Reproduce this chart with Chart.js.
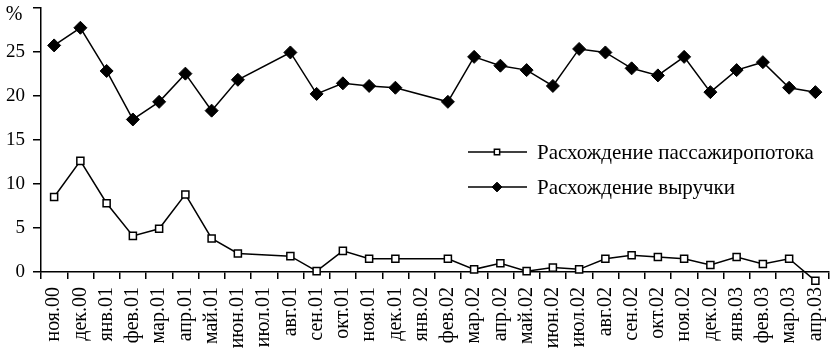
<!DOCTYPE html>
<html>
<head>
<meta charset="utf-8">
<script src="https://cdn.jsdelivr.net/npm/chart.js@4/dist/chart.umd.min.js"></script>
<style>
    html, body { margin: 0; padding: 0; background: #fff; overflow: hidden; }
    #wrap { width: 836px; height: 353px; }
</style>
</head>
<body>
<div id="wrap"><canvas id="chart" width="836" height="353"></canvas></div>
<script>
// Months on the x axis
const months = ['ноя.00', 'дек.00', 'янв.01', 'фев.01', 'мар.01', 'апр.01', 'май.01', 'июн.01',
    'июл.01', 'авг.01', 'сен.01', 'окт.01', 'ноя.01', 'дек.01', 'янв.02', 'фев.02', 'мар.02',
    'апр.02', 'май.02', 'июн.02', 'июл.02', 'авг.02', 'сен.02', 'окт.02', 'ноя.02', 'дек.02',
    'янв.03', 'фев.03', 'мар.03', 'апр.03'];

// Passenger flow discrepancy, %
const passengerGap = [8.5, 12.6, 7.8, 4.1, 4.9, 8.8, 3.8, 2.1, null, 1.8, 0.1, 2.4, 1.5, 1.5,
    null, 1.5, 0.3, 1.0, 0.1, 0.5, 0.3, 1.5, 1.9, 1.7, 1.5, 0.8, 1.7, 0.9, 1.5, -1.0];

// Revenue discrepancy, %
const revenueGap = [25.7, 27.7, 22.8, 17.3, 19.3, 22.5, 18.3, 21.8, null, 24.9, 20.2, 21.4, 21.1, 20.9,
    null, 19.3, 24.4, 23.4, 22.9, 21.1, 25.3, 24.9, 23.1, 22.3, 24.4, 20.4, 22.9, 23.8, 20.9, 20.4];

const yTicks = [0, 5, 10, 15, 20, 25, 30];
const seriesNames = ['Расхождение пассажиропотока', 'Расхождение выручки'];

const FONT = "'Liberation Serif', 'Times New Roman', serif";
const BIG_AREA = { left: -10000, top: -10000, right: 10000, bottom: 10000 };

// Points that fall below the x axis are skipped by Chart.js, so draw them again
const outsidePointsPlugin = {
    id: 'outsidePoints',
    afterDatasetsDraw(chart) {
        const area = chart.chartArea;
        chart.data.datasets.forEach((ds, i) => {
            chart.getDatasetMeta(i).data.forEach(pt => {
                if (pt.skip) return;
                if (pt.y > area.bottom || pt.y < area.top) {
                    pt.draw(chart.ctx, BIG_AREA);
                }
            });
        });
    }
};

// Legend drawn inside the plot, plus the "%" unit mark
const extrasPlugin = {
    id: 'extras',
    afterDraw(chart) {
        const ctx = chart.ctx;
        ctx.save();
        ctx.fillStyle = '#000';
        ctx.font = '20px ' + FONT;
        ctx.textAlign = 'center';
        ctx.textBaseline = 'middle';
        ctx.fillText('%', 14, 15);

        const rows = [152, 187];
        chart.data.datasets.forEach((ds, i) => {
            const y = rows[i];
            ctx.strokeStyle = '#000';
            ctx.lineWidth = 1.5;
            ctx.beginPath();
            ctx.moveTo(468, y);
            ctx.lineTo(527, y);
            ctx.stroke();
            ctx.fillStyle = ds.pointBackgroundColor;
            ctx.strokeStyle = '#000';
            ctx.lineWidth = ds.pointBorderWidth;
            Chart.helpers.drawPoint(ctx, {
                pointStyle: ds.pointStyle,
                radius: ds.pointRadius * 0.75,
                borderWidth: ds.pointBorderWidth
            }, 497, y);
            ctx.fillStyle = '#000';
            ctx.font = '21px ' + FONT;
            ctx.textAlign = 'left';
            ctx.fillText(ds.label, 537, y + 1);
        });
        ctx.restore();
    }
};

const ctx = document.getElementById('chart').getContext('2d');
const chart = new Chart(ctx, {
    type: 'line',
    data: {
        labels: months,
        datasets: [{
            label: seriesNames[0],
            data: passengerGap,
            borderColor: '#000',
            borderWidth: 1.5,
            pointStyle: 'rect',
            pointRadius: 5,
            pointBackgroundColor: '#fff',
            pointBorderColor: '#000',
            pointBorderWidth: 1.5,
            spanGaps: true,
            clip: false,
            tension: 0
        }, {
            label: seriesNames[1],
            data: revenueGap,
            borderColor: '#000',
            borderWidth: 1.5,
            pointStyle: 'rectRot',
            pointRadius: 6.5,
            pointBackgroundColor: '#000',
            pointBorderColor: '#000',
            pointBorderWidth: 1,
            spanGaps: true,
            clip: false,
            tension: 0
        }]
    },
    options: {
        responsive: false,
        animation: false,
        layout: { padding: { top: 6, right: 0, left: 0, bottom: 0 } },
        plugins: {
            legend: { display: false },
            tooltip: { enabled: false }
        },
        scales: {
            x: {
                offset: true,
                grid: {
                    offset: true,
                    drawOnChartArea: false,
                    drawTicks: true,
                    tickLength: 7,
                    color: '#000',
                    lineWidth: 1.5
                },
                border: { color: '#000', width: 1.5 },
                ticks: {
                    autoSkip: false,
                    minRotation: 90,
                    maxRotation: 90,
                    padding: 8,
                    color: '#000',
                    font: { family: FONT, size: 20 }
                },
                afterFit(scale) {
                    scale.height = 81;
                    scale.paddingLeft = 0;
                    scale.paddingRight = 0;
                }
            },
            y: {
                min: 0,
                max: 30,
                afterBuildTicks(scale) {
                    scale.ticks = yTicks.map(v => ({ value: v }));
                },
                grid: {
                    drawOnChartArea: false,
                    drawTicks: true,
                    tickLength: 8,
                    color: '#000',
                    lineWidth: 1.5
                },
                border: { color: '#000', width: 1.5 },
                ticks: {
                    padding: 8,
                    color: '#000',
                    font: { family: FONT, size: 19 },
                    callback: v => (v === 30 ? '' : v)
                },
                afterFit(scale) {
                    scale.width = 41;
                    scale.paddingTop = 0;
                    scale.paddingBottom = 0;
                }
            }
        }
    },
    plugins: [outsidePointsPlugin, extrasPlugin]
});
</script>
</body>
</html>
